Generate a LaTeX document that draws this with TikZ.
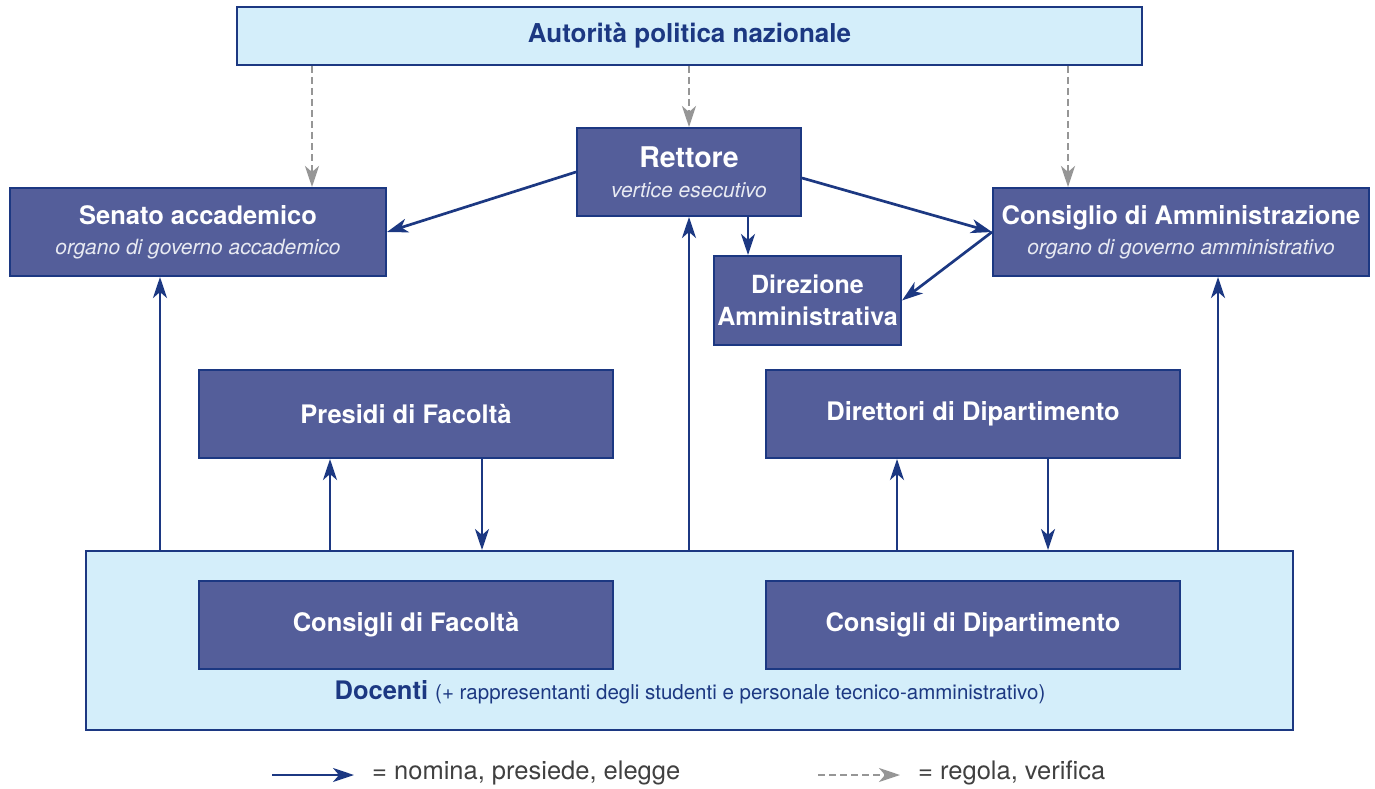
\documentclass[tikz,border=0pt]{standalone}
\usepackage{fontspec}
\setmainfont{TeX Gyre Heros}
\usetikzlibrary{arrows.meta}
\definecolor{boxFill}{RGB}{84,94,154}
\definecolor{paleFill}{RGB}{212,238,250}
\definecolor{inkBlue}{RGB}{28,56,130}
\definecolor{subGray}{RGB}{232,234,242}
\definecolor{dashGray}{RGB}{150,150,150}
\newcommand{\subline}[1]{{\fontsize{21}{30}\selectfont\mdseries\itshape\color{subGray}#1}}
\begin{document}
\begin{tikzpicture}
[x=1pt,y=-1pt,%
  orgBox/.style={draw=inkBlue,line width=2pt,fill=boxFill,text=white,align=center,inner sep=0pt,font=\fontsize{25.5}{30}\selectfont\bfseries},%
  paleBox/.style={draw=inkBlue,line width=2pt,fill=paleFill,text=inkBlue,inner sep=0pt},%
  darkArrow/.style={-{Stealth[length=21pt,width=14pt,inset=6pt]},line width=2.7pt,color=inkBlue},%
  dashArrow/.style={-{Stealth[length=21pt,width=14pt,inset=6pt]},line width=2.7pt,color=dashGray,dash pattern=on 7pt off 4pt},%
  legendText/.style={inner sep=0pt,anchor=west,text=black!75,font=\fontsize{25.5}{28}\selectfont}]
\useasboundingbox (0,0) rectangle (1375,789);
%% outer boxes
\node (autorita) at (689.5,36) [paleBox,minimum width=905,minimum height=58,font=\fontsize{26}{28}\selectfont\bfseries] {Autorità politica nazionale};
\node (docenti) at (689.5,640.5) [paleBox,minimum width=1207,minimum height=179] {};
\node (docentiLabel) at (690,692) [text=inkBlue,inner sep=0pt] {{\fontsize{25.5}{28}\selectfont\bfseries Docenti\ }{\fontsize{20.5}{28}\selectfont(+ rappresentanti degli studenti e personale tecnico-amministrativo)}};
%% governing boxes
\node (rettore) at (689,172) [orgBox,minimum width=224,minimum height=88] {{\fontsize{28.5}{30}\selectfont Rettore}\\\subline{vertice esecutivo}};
\node (senato) at (198,232) [orgBox,minimum width=376,minimum height=88] {Senato accademico\\\subline{organo di governo accademico}};
\node (consiglio) at (1181,232) [orgBox,minimum width=376,minimum height=88] {Consiglio di Amministrazione\\\subline{organo di governo amministrativo}};
\node (direzione) at (807.5,300.5) [orgBox,minimum width=187,minimum height=89,font=\fontsize{25}{32}\selectfont\bfseries] {Direzione\\Amministrativa};
%% faculty and department boxes
\foreach \nodename/\x/\y/\label in {presidi/406/414/Presidi di Facoltà, direttori/973/414/Direttori di Dipartimento, consFac/406/625/Consigli di Facoltà, consDip/973/625/Consigli di Dipartimento}
{
  \node (\nodename) at (\x,\y) [orgBox,minimum width=414,minimum height=88] {\label};
}
%% regulating lines
\foreach \x/\endnode in {312/senato, 689/rettore, 1068/consiglio}
{
  \draw[dashArrow] (autorita.south -| \x,0) -- (\endnode.north -| \x,0);
}
%% electing lines, upwards
\foreach \x/\endnode in {160/senato, 330/presidi, 689/rettore, 897/direttori, 1218/consiglio}
{
  \draw[darkArrow] (docenti.north -| \x,0) -- (\endnode.south -| \x,0);
}
%% presiding lines, downwards
\foreach \x/\startnode in {482/presidi, 1048/direttori}
{
  \draw[darkArrow] (\startnode.south -| \x,0) -- (docenti.north -| \x,0);
}
%% naming lines
\draw[darkArrow] (rettore.west) -- (senato.east);
\draw[darkArrow] ([yshift=-6pt]rettore.east) -- (consiglio.west);
\draw[darkArrow] (rettore.south -| 748,0) -- (direzione.north -| 748,0);
\draw[darkArrow] (consiglio.west) -- (direzione.east);
%% legend
\coordinate (solidA) at (272,775);
\coordinate (solidB) at (354,775);
\coordinate (dashA) at (818,775);
\coordinate (dashB) at (900,775);
\draw[darkArrow] (solidA) -- (solidB);
\draw[dashArrow] (dashA) -- (dashB);
\node (solidText) at (372,773) [legendText] {= nomina, presiede, elegge};
\node (dashText) at (918,773) [legendText] {= regola, verifica};
\end{tikzpicture}
\end{document}
